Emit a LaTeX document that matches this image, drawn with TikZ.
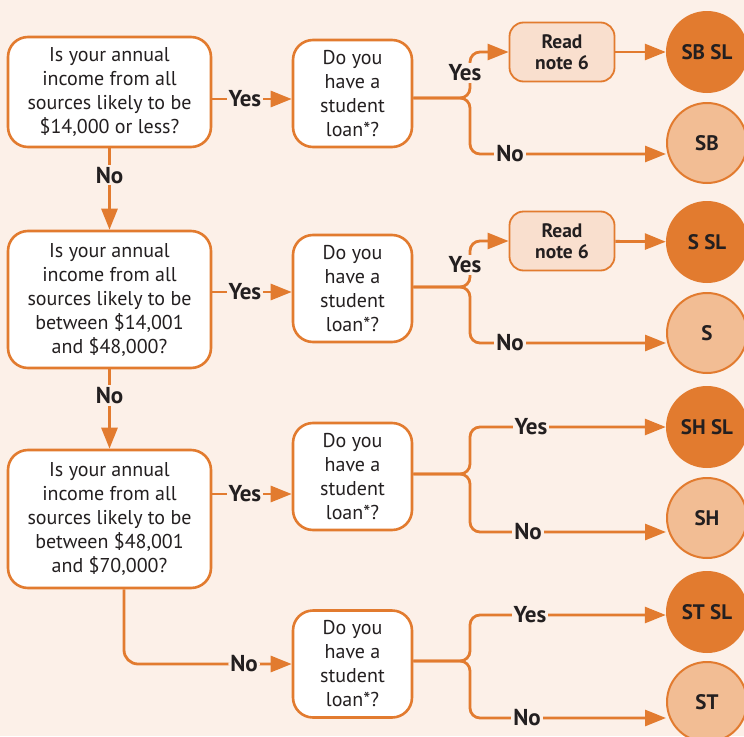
\documentclass[tikz,border=0pt]{standalone}
\usepackage{fontspec}
\setmainfont{PT Sans}
\usetikzlibrary{arrows.meta,positioning}

\definecolor{bgpeach}{HTML}{FCF0E8}
\definecolor{flowor}{HTML}{E27B2F}
\definecolor{lightor}{HTML}{F2BD94}
\definecolor{noteor}{HTML}{F9DFCE}
\definecolor{inkdark}{HTML}{231F20}

\begin{document}
\begin{tikzpicture}[
    x=1pt, y=-1pt,
    every node/.style={font=\fontsize{20}{24}\selectfont, text=inkdark},
    qbox/.style={
      rectangle, rounded corners=20pt, draw=flowor, line width=2.6pt,
      fill=white, minimum width=203pt, align=center, inner sep=0pt
    },
    dbox/.style={
      rectangle, rounded corners=20pt, draw=flowor, line width=2.6pt,
      fill=white, minimum width=119pt, minimum height=107pt, align=center, inner sep=0pt
    },
    notebox/.style={
      rectangle, rounded corners=14pt, draw=flowor, line width=1.8pt,
      fill=noteor, minimum width=105pt, minimum height=59pt, align=center,
      inner sep=0pt, font=\bfseries\fontsize{19.5}{21}\selectfont
    },
    slcirc/.style={
      circle, fill=flowor, minimum size=82pt, inner sep=0pt,
      font=\bfseries\fontsize{21}{26}\selectfont
    },
    plaincirc/.style={
      circle, fill=lightor, draw=flowor, line width=2pt, minimum size=80pt,
      inner sep=0pt, font=\bfseries\fontsize{21}{26}\selectfont
    },
    lbl/.style={fill=bgpeach, inner sep=2pt, font=\bfseries\fontsize{23}{26}\selectfont},
    arr/.style={draw=flowor, line width=2.8pt, -{Triangle[length=21pt,width=16pt]}}
  ]
    % ── Page ──
    \useasboundingbox (0,0) rectangle (744,736);
    \fill[bgpeach] (0,0) rectangle (744,736);
    \clip (0,0) rectangle (744,736);

    % ── Income questions (left column) ──
    \node[qbox, minimum height=110pt] (q1) at (109.5,92)
      {Is your annual\\income from all\\sources likely to be\\\$14,000 or less?};
    \node[qbox, minimum height=137pt] (q2) at (109.5,299.5)
      {Is your annual\\income from all\\sources likely to be\\between \$14,001\\and \$48,000?};
    \node[qbox, minimum height=138pt] (q3) at (109.5,519)
      {Is your annual\\income from all\\sources likely to be\\between \$48,001\\and \$70,000?};

    % ── Student loan questions ──
    \node[dbox] (d1) at (352.5,93.5) {Do you\\have a\\student\\loan*?};
    \node[dbox] (d2) at (352.5,288.5) {Do you\\have a\\student\\loan*?};
    \node[dbox] (d3) at (352.5,476.5) {Do you\\have a\\student\\loan*?};
    \node[dbox] (d4) at (352.5,664) {Do you\\have a\\student\\loan*?};

    % ── Outcomes (right column) ──
    \node[notebox] (n1) at (562,52) {Read\\note 6};
    \node[slcirc] (sbsl) at (707,52) {SB SL};
    \node[plaincirc] (sb) at (707,143) {SB};
    \node[notebox] (n2) at (562,241) {Read\\note 6};
    \node[slcirc] (ssl) at (707,242) {S SL};
    \node[plaincirc] (s) at (707,333) {S};
    \node[slcirc] (shsl) at (707,427) {SH SL};
    \node[plaincirc] (sh) at (707,518) {SH};
    \node[slcirc] (stsl) at (707,612) {ST SL};
    \node[plaincirc] (st) at (707,702) {ST};

    % ── Left column connectors ──
    \draw[arr] ([yshift=-7pt]q1.east) -- ([yshift=-7pt]q1.east -| d1.west)
      node[lbl, pos=0.41] (qy1) {Yes};
    \draw[arr] ([yshift=7.5pt]q2.east) -- ([yshift=7.5pt]q2.east -| d2.west)
      node[lbl, pos=0.41] (qy2) {Yes};
    \draw[arr] ([yshift=25pt]q3.east) -- ([yshift=25pt]q3.east -| d3.west)
      node[lbl, pos=0.41] (qy3) {Yes};
    \draw[arr] (q1.south) -- (q2.north) node[lbl, pos=0.33] (qn1) {No};
    \draw[arr] (q2.south) -- (q3.north) node[lbl, pos=0.33] (qn2) {No};
    \draw[arr, rounded corners=14pt] ([xshift=14.5pt]q3.south) |- (d4.west)
      node[lbl, pos=0.858] (qn3) {No};

    % ── Branch points ──
    \coordinate (b1) at (470,98);
    \coordinate (b2) at (470,287);
    \coordinate (b3) at (470,474);
    \coordinate (b4) at (470,661);
    \coordinate (pn1) at (510,154);
    \coordinate (pn2) at (510,343);
    \coordinate (py3) at (531,427);
    \coordinate (pn3) at (528,532);
    \coordinate (py4) at (530,615);
    \coordinate (pn4) at (527,718);

    % ── Row 1 ──
    \draw[arr, rounded corners=10pt] (d1.east |- b1) -- (b1) |- (n1.west);
    \draw[arr, rounded corners=10pt] (d1.east |- b1) -- (b1) |- (pn1) -- (pn1 -| sb.west);
    \draw[arr] (n1) -- (sbsl);
    \node[lbl] (y1) at (465,73) {Yes};
    \node[lbl] (no1) at (pn1) {No};

    % ── Row 2 ──
    \draw[arr, rounded corners=10pt] (d2.east |- b2) -- (b2) |- (n2.west);
    \draw[arr, rounded corners=10pt] (d2.east |- b2) -- (b2) |- (pn2) -- (pn2 -| s.west);
    \draw[arr] (n2) -- (ssl);
    \node[lbl] (y2) at (465,265) {Yes};
    \node[lbl] (no2) at (pn2) {No};

    % ── Row 3 ──
    \draw[arr, rounded corners=10pt] (d3.east |- b3) -- (b3) |- (py3) -- (py3 -| shsl.west);
    \draw[arr, rounded corners=10pt] (d3.east |- b3) -- (b3) |- (pn3) -- (pn3 -| sh.west);
    \node[lbl] (y3) at (py3) {Yes};
    \node[lbl] (no3) at (pn3) {No};

    % ── Row 4 ──
    \draw[arr, rounded corners=10pt] (d4.east |- b4) -- (b4) |- (py4) -- (py4 -| stsl.west);
    \draw[arr, rounded corners=10pt] (d4.east |- b4) -- (b4) |- (pn4) -- (pn4 -| st.west);
    \node[lbl] (y4) at (py4) {Yes};
    \node[lbl] (no4) at (pn4) {No};

  \end{tikzpicture}
\end{document}
